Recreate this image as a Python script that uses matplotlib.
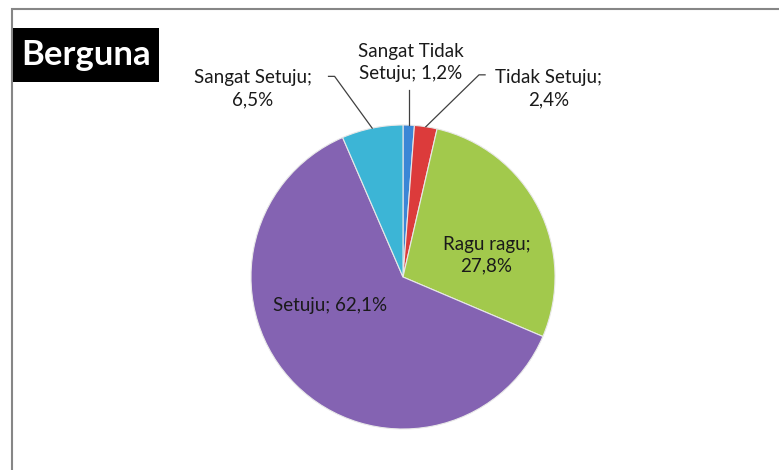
import numpy as np
import matplotlib.pyplot as plt
from matplotlib.patches import Rectangle

plt.rcParams['font.family'] = ['Lato', 'DejaVu Sans']

# data
kategori = ["Sangat Tidak\nSetuju", "Tidak Setuju", "Ragu ragu", "Setuju", "Sangat Setuju"]
persen = [1.2, 2.4, 27.8, 62.1, 6.5]
warna = ["#3b86d6", "#dc3b3b", "#a2c94c", "#8463b2", "#3cb5d6"]
judul = "Berguna"

W, H = 779, 470
fig = plt.figure(figsize=(W / 100, H / 100), dpi=100)

# frame around the chart (cut on right/bottom like the source)
fig.patches.append(Rectangle((12 / W, -0.1), 1.2, (H - 9) / H + 0.1, transform=fig.transFigure,
                             fill=False, edgecolor="#868686", linewidth=1.5))

# title box
fig.patches.append(Rectangle((13 / W, (H - 82) / H), 146 / W, 54 / H, transform=fig.transFigure,
                             facecolor="black", edgecolor="none"))
fig.text(86 / W, (H - 55) / H, judul, color="white", fontsize=25, fontweight="bold",
         ha="center", va="center")

# pie axes: centre (403, 277) px, radius 152 px
cx, cy, r = 403, 277, 152
ax = fig.add_axes([(cx - r) / W, (H - cy - r) / H, 2 * r / W, 2 * r / H])
wedges, _ = ax.pie(persen, colors=warna, startangle=90, counterclock=False, radius=1,
                   wedgeprops=dict(edgecolor="#e8e8e8", linewidth=0.8))
ax.set_xlim(-1, 1)
ax.set_ylim(-1, 1)
ax.set_aspect("equal")
ax.axis("off")


def pct(i):
    return ("%.1f%%" % persen[i]).replace(".", ",")


def mid_angle(w):
    return np.deg2rad((w.theta1 + w.theta2) / 2)


fs = 13.5
tc = "#1a1a1a"
lc = "#404040"
ls = 1.35

# Sangat Tidak Setuju - above, vertical leader
a = mid_angle(wedges[0])
px, py = np.cos(a), np.sin(a)
ax.text(0.05, 1.41, kategori[0] + "; " + pct(0), ha="center", va="center",
        fontsize=fs, color=tc, clip_on=False, linespacing=ls)
ax.plot([px, px], [py, 1.23], color=lc, lw=0.9, clip_on=False)

# Tidak Setuju - upper right
a = mid_angle(wedges[1])
px, py = np.cos(a), np.sin(a)
ax.text(0.96, 1.24, kategori[1] + ";\n" + pct(1), ha="center", va="center",
        fontsize=fs, color=tc, clip_on=False, linespacing=ls)
ax.plot([px, 0.5, 0.54], [py, 1.33, 1.33], color=lc, lw=0.9, clip_on=False)

# Sangat Setuju - upper left
a = mid_angle(wedges[4])
px, py = np.cos(a), np.sin(a)
ax.text(-0.99, 1.24, kategori[4] + ";\n" + pct(4), ha="center", va="center",
        fontsize=fs, color=tc, clip_on=False, linespacing=ls)
ax.plot([px, -0.45, -0.49], [py, 1.32, 1.32], color=lc, lw=0.9, clip_on=False)

# inner labels
ax.text(0.55, 0.145, kategori[2] + ";\n" + pct(2), ha="center", va="center",
        fontsize=fs, color=tc, linespacing=ls)
ax.text(-0.48, -0.19, kategori[3] + "; " + pct(3), ha="center", va="center",
        fontsize=fs, color=tc)

fig.savefig("out.png", dpi=100)
